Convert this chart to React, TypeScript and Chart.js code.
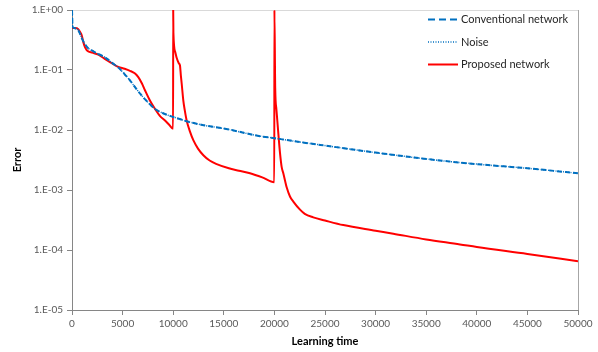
import React, { useEffect, useRef } from "react";
import { Chart, registerables } from "chart.js";

Chart.register(...registerables);

// ---- Data ----
const convTime = [0, 60, 460, 800, 1000, 1280, 1600, 2000, 2440, 3000, 3430, 4000, 4580, 5150, 5730, 6300, 6880, 7500, 8200, 9000, 10000, 11660, 13000, 15120, 18577, 20000, 22530, 25000, 30000, 36360, 40000, 45000, 50000];
const convError = [1.0, 0.52, 0.49, 0.4, 0.33, 0.27, 0.23, 0.21, 0.19, 0.172, 0.155, 0.13, 0.11, 0.087, 0.067, 0.05, 0.0376, 0.029, 0.0224, 0.019, 0.0165, 0.0135, 0.012, 0.0105, 0.0079, 0.0073, 0.0063, 0.0055, 0.0042, 0.0031, 0.0027, 0.0023, 0.0019];

const noiseTime = [0, 60, 460, 800, 1000, 1280, 1600, 2000, 2440, 3000, 3430, 4000, 4580, 5150, 5730, 6300, 6880, 7500, 8200, 9000, 10000, 11660, 13000, 15120, 18577, 20000, 22530, 25000, 30000, 36360, 40000, 45000, 50000];
const noiseError = [1.0, 0.52, 0.49, 0.4, 0.33, 0.27, 0.23, 0.21, 0.19, 0.172, 0.155, 0.13, 0.11, 0.087, 0.067, 0.05, 0.0376, 0.029, 0.0224, 0.019, 0.0165, 0.0135, 0.012, 0.0105, 0.0079, 0.0073, 0.0063, 0.0055, 0.0042, 0.0031, 0.0027, 0.0023, 0.0019];

const propTime = [0, 300, 620, 800, 960, 1100, 1280, 1450, 1610, 2000, 2600, 3200, 3750, 4200, 4580, 5200, 5730, 6200, 6550, 6900, 7210, 7700, 8200, 8700, 9190, 9600, 9990, 10000, 10020, 10200, 10340, 10550, 10670, 10760, 10840, 11000, 11150, 11330, 11650, 12000, 12450, 12980, 13600, 14300, 15500, 16500, 17590, 18800, 19990, 20000, 20080, 20200, 20390, 20550, 20720, 20880, 21220, 21540, 21870, 22530, 23000, 23840, 25000, 26810, 30000, 31750, 35000, 38340, 40000, 45000, 50000];
const propError = [0.5, 0.5, 0.48, 0.43, 0.38, 0.3, 0.24, 0.215, 0.205, 0.195, 0.18, 0.155, 0.135, 0.122, 0.113, 0.105, 0.097, 0.088, 0.076, 0.06, 0.046, 0.031, 0.0225, 0.017, 0.0144, 0.0122, 0.0105, 1.0, 0.42, 0.2, 0.16, 0.13, 0.119, 0.08, 0.059, 0.031, 0.021, 0.0144, 0.0095, 0.0067, 0.0049, 0.0038, 0.0031, 0.0027, 0.0023, 0.0021, 0.0019, 0.00162, 0.00135, 1.0, 0.05, 0.022, 0.0087, 0.0042, 0.0024, 0.0019, 0.0011, 0.00078, 0.00064, 0.00047, 0.0004, 0.00035, 0.00031, 0.00026, 0.00021, 0.000187, 0.00015, 0.000124, 0.000112, 0.000086, 0.000065];

const yTickValues = [1, 0.1, 0.01, 0.001, 0.0001, 0.00001];
const yTickLabels = ["1.E+00", "1.E-01", "1.E-02", "1.E-03", "1.E-04", "1.E-05"];

const seriesNames = ["Conventional network", "Noise", "Proposed network"];

const BLUE = "#0070C0";
const RED = "#FF0000";
const FONT = "Lato, 'Liberation Sans', sans-serif";

const toPoints = (xs: number[], ys: number[]) => xs.map((x, i) => ({ x, y: ys[i] }));

const decorPlugin = {
  id: "decor",
  beforeDatasetsDraw(chart: any) {
    const { ctx, chartArea } = chart;
    const { left, top, right, bottom } = chartArea;
    ctx.save();
    ctx.lineWidth = 1;
    ctx.strokeStyle = "#d9d9d9";
    ctx.beginPath();
    ctx.moveTo(left, Math.round(top) + 0.5);
    ctx.lineTo(right, Math.round(top) + 0.5);
    ctx.stroke();
    ctx.strokeStyle = "#a6a6a6";
    ctx.beginPath();
    ctx.moveTo(Math.round(right) + 0.5, top);
    ctx.lineTo(Math.round(right) + 0.5, bottom);
    ctx.stroke();
    ctx.restore();
  },
  afterDraw(chart: any) {
    const { ctx } = chart;
    ctx.save();
    const x0 = 428;
    const x1 = 458;
    const rows = [19.5, 42, 64.5];
    const styles = [
      { color: BLUE, width: 2, dash: [7, 4] },
      { color: BLUE, width: 1.5, dash: [1, 1.5] },
      { color: RED, width: 2, dash: [] as number[] },
    ];
    rows.forEach((y, i) => {
      const s = styles[i];
      ctx.strokeStyle = s.color;
      ctx.lineWidth = s.width;
      ctx.setLineDash(s.dash);
      ctx.beginPath();
      ctx.moveTo(x0, y);
      ctx.lineTo(x1, y);
      ctx.stroke();
      ctx.setLineDash([]);
      ctx.fillStyle = "#262626";
      ctx.font = `11px ${FONT}`;
      ctx.textBaseline = "middle";
      ctx.textAlign = "left";
      ctx.fillText(seriesNames[i], x1 + 3, y);
    });
    ctx.restore();
  },
};

export default function App() {
  const canvasRef = useRef<HTMLCanvasElement | null>(null);

  useEffect(() => {
    document.body.style.margin = "0";
    const canvas = canvasRef.current;
    if (!canvas) return;
    const chart = new Chart(canvas, {
      type: "line",
      data: {
        datasets: [
          {
            label: seriesNames[0],
            data: toPoints(convTime, convError),
            borderColor: BLUE,
            borderWidth: 2,
            borderDash: [5, 3],
            pointRadius: 0,
            cubicInterpolationMode: "monotone",
            fill: false,
          },
          {
            label: seriesNames[1],
            data: toPoints(noiseTime, noiseError),
            borderColor: BLUE,
            borderWidth: 1.5,
            borderDash: [1, 1.5],
            pointRadius: 0,
            cubicInterpolationMode: "monotone",
            fill: false,
          },
          {
            label: seriesNames[2],
            data: toPoints(propTime, propError),
            borderColor: RED,
            borderWidth: 2,
            pointRadius: 0,
            cubicInterpolationMode: "monotone",
            fill: false,
          },
        ],
      },
      options: {
        animation: false,
        responsive: false,
        devicePixelRatio: 1,
        parsing: false as any,
        layout: { padding: { left: 0, top: 9, right: 20, bottom: 0 } },
        plugins: {
          legend: { display: false },
          tooltip: { enabled: false },
        },
        scales: {
          x: {
            type: "linear",
            min: 0,
            max: 50000,
            ticks: {
              stepSize: 5000,
              color: "#595959",
              font: { family: FONT, size: 10 },
              padding: 3,
              maxRotation: 0,
              callback: (v: any) => String(v),
            },
            grid: {
              drawOnChartArea: false,
              drawTicks: true,
              tickLength: 5,
              color: "#868686",
            },
            border: { display: true, color: "#868686" },
            title: {
              display: true,
              text: "Learning time",
              color: "#000000",
              font: { family: FONT, size: 11, weight: "bold" },
              padding: { top: 0, bottom: 4 },
            },
            afterFit: (scale: any) => {
              scale.height = 42;
            },
          },
          y: {
            type: "logarithmic",
            min: 0.00001,
            max: 1,
            afterBuildTicks: (scale: any) => {
              scale.ticks = yTickValues.map((v) => ({ value: v }));
            },
            ticks: {
              color: "#595959",
              font: { family: FONT, size: 10 },
              padding: 4,
              callback: (v: any) => {
                const idx = yTickValues.findIndex((t) => Math.abs(Math.log10(t) - Math.log10(v)) < 1e-6);
                return idx >= 0 ? yTickLabels[idx] : "";
              },
            },
            grid: {
              drawOnChartArea: false,
              drawTicks: true,
              tickLength: 5,
              color: "#868686",
            },
            border: { display: true, color: "#868686" },
            title: {
              display: true,
              text: "Error",
              color: "#000000",
              font: { family: FONT, size: 11, weight: "bold" },
              padding: { top: 11, bottom: 0 },
            },
            afterFit: (scale: any) => {
              scale.width = 72;
            },
          },
        },
      },
      plugins: [decorPlugin],
    });
    return () => chart.destroy();
  }, []);

  return (
    <canvas
      ref={canvasRef}
      width={598}
      height={352}
      style={{ position: "absolute", left: 0, top: 0, width: 598, height: 352, display: "block" }}
    />
  );
}
